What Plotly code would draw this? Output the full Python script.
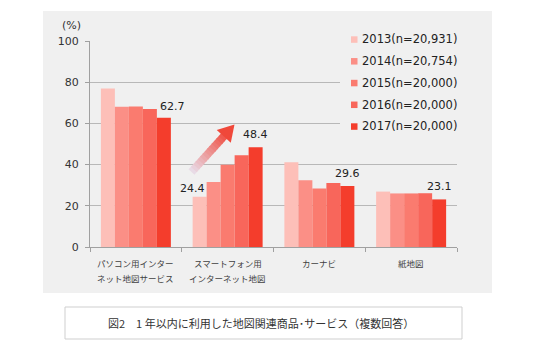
import plotly.graph_objects as go
import math

# ---- data ----
categories = ["パソコン用インター\nネット地図サービス", "スマートフォン用\nインターネット地図", "カーナビ", "紙地図"]
years = ["2013(n=20,931)", "2014(n=20,754)", "2015(n=20,000)", "2016(n=20,000)", "2017(n=20,000)"]
v2013 = [77.0, 24.4, 41.2, 26.9]
v2014 = [68.1, 31.5, 32.4, 26.0]
v2015 = [68.2, 39.9, 28.4, 26.0]
v2016 = [67.0, 44.5, 31.1, 26.1]
v2017 = [62.7, 48.4, 29.6, 23.1]
series = [v2013, v2014, v2015, v2016, v2017]
yticks = [0, 20, 40, 60, 80, 100]
caption = "図2　1 年以内に利用した地図関連商品･サービス（複数回答）"

# labelled points: (series index, category index, xshift, yshift)
labelled = [(4, 0, 9, 11), (4, 1, 0, 13), (4, 2, 0, 13), (4, 3, 0, 13), (0, 1, -7, 8)]

colors = ["#FDBFB8", "#FB8F86", "#FA7B6F", "#F8665B", "#F43D2C"]

W, H = 550, 356
L, R, T, B = 90, 93, 41, 109
pw, ph = W - L - R, H - T - B
BARGAP = 0.237


def px(x):
    return (x - L) / pw


def py(y):
    return (H - B - y) / ph


fig = go.Figure()
cat_keys = [c.replace("\n", " ") for c in categories]
for j, vals in enumerate(series):
    fig.add_trace(go.Bar(x=cat_keys, y=vals, name=years[j], marker=dict(color=colors[j], line=dict(width=0)),
                         showlegend=False, hoverinfo="y"))

shapes = []
annotations = []

# gray panel
shapes.append(dict(type="rect", xref="paper", yref="paper", x0=px(43), x1=px(492), y0=py(293), y1=py(11),
                   fillcolor="#F0F0F0", line=dict(width=0), layer="below"))
# cover gridlines in legend area
shapes.append(dict(type="rect", xref="paper", yref="paper", x0=px(340), x1=px(462), y0=py(145), y1=py(30),
                   fillcolor="#F0F0F0", line=dict(width=0), layer="above"))
# caption box
shapes.append(dict(type="rect", xref="paper", yref="paper", x0=px(65), x1=px(462), y0=py(339), y1=py(307),
                   fillcolor="#FFFFFF", line=dict(width=1, color="#CFCFCF"), layer="below"))

# legend (manual)
for j, name in enumerate(years):
    cy = 39.3 + j * 21.75
    shapes.append(dict(type="rect", xref="paper", yref="paper", x0=px(351), x1=px(357.5), y0=py(cy + 3.5),
                       y1=py(cy - 3), fillcolor=colors[j], line=dict(width=0), layer="above"))
    annotations.append(dict(x=px(360), y=py(cy), xref="paper", yref="paper", text=name, showarrow=False,
                            xanchor="left", yanchor="middle", font=dict(family="DejaVu Sans", size=11.5, color="#222222")))

# gradient arrow
tx, ty = 191.5, 172.0
hx, hy = 234.5, 124.5
dx, dy = hx - tx, hy - ty
ln = math.hypot(dx, dy)
ux, uy = dx / ln, dy / ln
nx, ny = -uy, ux
head_len = 16
shaft_w = 4.0
head_w = 9.5
c0 = (232, 224, 236)
c1 = (240, 70, 56)
nseg = 14
shaft_len = ln - head_len
for k in range(nseg):
    a = k / nseg * shaft_len
    b = (k + 1) / nseg * shaft_len + 0.8
    t = (k + 0.5) / nseg
    col = "rgb(%d,%d,%d)" % tuple(round(c0[i] + (c1[i] - c0[i]) * (t * 0.9)) for i in range(3))
    w = shaft_w
    pts = [(tx + ux * a + nx * w, ty + uy * a + ny * w), (tx + ux * b + nx * w, ty + uy * b + ny * w),
           (tx + ux * b - nx * w, ty + uy * b - ny * w), (tx + ux * a - nx * w, ty + uy * a - ny * w)]
    path = "M" + " L".join("%f,%f" % (px(p[0]), py(p[1])) for p in pts) + " Z"
    shapes.append(dict(type="path", xref="paper", yref="paper", path=path, fillcolor=col, line=dict(width=0),
                       layer="above"))
bx, by = tx + ux * shaft_len, ty + uy * shaft_len
pts = [(hx, hy), (bx + nx * head_w, by + ny * head_w), (bx - nx * head_w, by - ny * head_w)]
path = "M" + " L".join("%f,%f" % (px(p[0]), py(p[1])) for p in pts) + " Z"
shapes.append(dict(type="path", xref="paper", yref="paper", path=path, fillcolor="rgb(240,72,58)",
                   line=dict(width=0), layer="above"))

# data labels
bw = (1 - BARGAP) / len(series)
for (j, i, xs, ys) in labelled:
    xpos = i - (1 - BARGAP) / 2 + bw * (j + 0.5)
    annotations.append(dict(x=xpos, y=series[j][i], xref="x", yref="y", text="%.1f" % series[j][i],
                            showarrow=False, xanchor="center", yanchor="middle", xshift=xs, yshift=ys,
                            font=dict(family="DejaVu Sans", size=11, color="#222222")))

# category labels
for i, c in enumerate(categories):
    for k, line in enumerate(c.split("\n")):
        annotations.append(dict(x=i, y=py(263 + 15 * k), xref="x", yref="paper", text=line, showarrow=False,
                                xanchor="center", yanchor="middle",
                                font=dict(family="Noto Sans CJK JP", size=8.5, color="#404040")))

# (%) label
annotations.append(dict(x=px(71.5), y=py(25), xref="paper", yref="paper", text="(%)", showarrow=False,
                        xanchor="center", yanchor="middle", font=dict(family="DejaVu Sans", size=11, color="#333333")))
# caption
annotations.append(dict(x=px(261), y=py(323), xref="paper", yref="paper", text=caption, showarrow=False,
                        xanchor="center", yanchor="middle",
                        font=dict(family="Noto Sans CJK JP", size=11, color="#333333")))

fig.update_layout(
    width=W, height=H, margin=dict(l=L, r=R, t=T, b=B, pad=0),
    paper_bgcolor="#FFFFFF", plot_bgcolor="rgba(0,0,0,0)",
    barmode="group", bargap=BARGAP, bargroupgap=0,
    showlegend=False, shapes=shapes, annotations=annotations,
    xaxis=dict(type="category", categoryarray=cat_keys, tickson="boundaries", ticks="outside", ticklen=4,
               tickcolor="#A0A0A0", showline=True, linecolor="#A0A0A0", linewidth=1, showgrid=False,
               showticklabels=False, range=[-0.5, 3.5], fixedrange=True),
    yaxis=dict(range=[0, 100], tickvals=yticks, ticks="outside", ticklen=4, tickcolor="#A0A0A0",
               showline=True, linecolor="#A0A0A0", linewidth=1, showgrid=True, gridcolor="#B8B8B8",
               gridwidth=1, zeroline=False, ticklabelstandoff=4,
               tickfont=dict(family="DejaVu Sans", size=11, color="#333333"), fixedrange=True),
)

fig.write_html("out.html")
